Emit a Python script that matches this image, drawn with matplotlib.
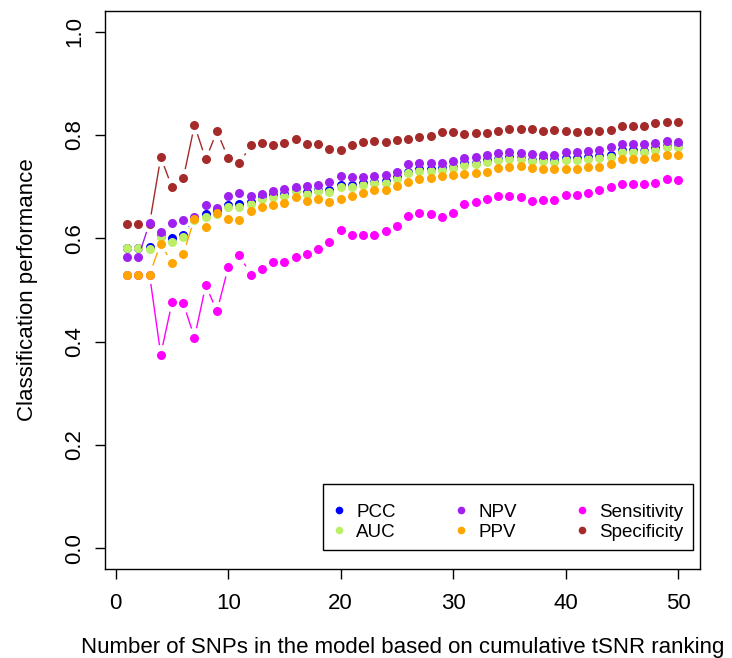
import numpy as np
import matplotlib.pyplot as plt
from matplotlib.collections import LineCollection
from matplotlib.lines import Line2D

plt.rcParams["font.family"] = ["Liberation Sans", "DejaVu Sans"]

# number of SNPs in the model
snps = np.arange(1, 51)

pcc = [0.581, 0.581, 0.584, 0.605, 0.601, 0.607, 0.638, 0.647, 0.652, 0.664,
       0.666, 0.670, 0.680, 0.683, 0.685, 0.694, 0.690, 0.694, 0.693, 0.703,
       0.703, 0.707, 0.710, 0.711, 0.718, 0.729, 0.734, 0.734, 0.736, 0.739,
       0.745, 0.746, 0.751, 0.754, 0.757, 0.756, 0.752, 0.753, 0.751, 0.755,
       0.755, 0.757, 0.759, 0.761, 0.771, 0.771, 0.770, 0.774, 0.779, 0.779]
auc = [0.581, 0.581, 0.580, 0.602, 0.592, 0.603, 0.635, 0.642, 0.648, 0.660,
       0.661, 0.667, 0.677, 0.680, 0.682, 0.691, 0.686, 0.691, 0.690, 0.699,
       0.699, 0.703, 0.707, 0.708, 0.715, 0.726, 0.730, 0.730, 0.733, 0.736,
       0.742, 0.743, 0.747, 0.751, 0.754, 0.753, 0.749, 0.749, 0.747, 0.752,
       0.752, 0.754, 0.756, 0.758, 0.767, 0.767, 0.767, 0.771, 0.776, 0.776]
npv = [0.563, 0.563, 0.630, 0.612, 0.630, 0.636, 0.642, 0.665, 0.658, 0.681,
       0.687, 0.681, 0.686, 0.692, 0.695, 0.699, 0.702, 0.703, 0.709, 0.721,
       0.719, 0.719, 0.721, 0.723, 0.729, 0.743, 0.745, 0.745, 0.745, 0.749,
       0.756, 0.758, 0.762, 0.765, 0.767, 0.765, 0.763, 0.762, 0.762, 0.767,
       0.767, 0.769, 0.771, 0.776, 0.782, 0.782, 0.782, 0.784, 0.789, 0.787]
ppv = [0.530, 0.530, 0.530, 0.590, 0.552, 0.570, 0.638, 0.622, 0.650, 0.638,
       0.636, 0.652, 0.661, 0.664, 0.668, 0.680, 0.673, 0.676, 0.671, 0.677,
       0.681, 0.687, 0.693, 0.693, 0.702, 0.710, 0.715, 0.716, 0.721, 0.723,
       0.725, 0.727, 0.729, 0.736, 0.738, 0.740, 0.736, 0.734, 0.734, 0.734,
       0.734, 0.738, 0.738, 0.743, 0.754, 0.754, 0.754, 0.758, 0.762, 0.762]
sens = [0.530, 0.530, 0.530, 0.375, 0.476, 0.474, 0.408, 0.509, 0.459, 0.544,
        0.567, 0.530, 0.541, 0.554, 0.555, 0.563, 0.570, 0.579, 0.592, 0.616,
        0.607, 0.607, 0.607, 0.614, 0.623, 0.644, 0.649, 0.647, 0.642, 0.650,
        0.667, 0.670, 0.677, 0.681, 0.681, 0.680, 0.673, 0.675, 0.675, 0.683,
        0.683, 0.687, 0.693, 0.699, 0.705, 0.705, 0.705, 0.708, 0.715, 0.712]
spec = [0.628, 0.628, 0.628, 0.757, 0.699, 0.716, 0.819, 0.753, 0.807, 0.755,
        0.745, 0.780, 0.784, 0.780, 0.784, 0.793, 0.782, 0.782, 0.773, 0.771,
        0.780, 0.787, 0.788, 0.786, 0.790, 0.793, 0.797, 0.799, 0.806, 0.806,
        0.802, 0.804, 0.804, 0.807, 0.812, 0.812, 0.812, 0.807, 0.809, 0.807,
        0.806, 0.807, 0.807, 0.809, 0.818, 0.818, 0.818, 0.823, 0.825, 0.825]

labels = ["PCC", "AUC", "NPV", "PPV", "Sensitivity", "Specificity"]
colors = ["#0000FF", "#BCEE68", "#A020F0", "#FFA500", "#FF00FF", "#A52A2A"]
series = [pcc, auc, npv, ppv, sens, spec]
draw_order = [4, 5, 0, 1, 2, 3]

fig = plt.figure(figsize=(7.32, 6.58), dpi=100)
ax = fig.add_axes([105 / 732, 89 / 658, 595 / 732, 558 / 658])
ax.set_xlim(-0.96, 51.96)
ax.set_ylim(-0.04, 1.04)


def gapped_segments(x, y, gap=9.5):
    # R type="b": line segments stop short of each point
    pts = ax.transData.transform(np.column_stack([x, y]))
    inv = ax.transData.inverted()
    segs = []
    for p0, p1 in zip(pts[:-1], pts[1:]):
        d = p1 - p0
        L = np.hypot(*d)
        if L > 2 * gap:
            u = d / L
            segs.append(inv.transform([p0 + u * gap, p1 - u * gap]))
    return segs


z = 2
for i in draw_order:
    lc = LineCollection(gapped_segments(snps, series[i]), colors=colors[i],
                        linewidths=1.0, zorder=z)
    ax.add_collection(lc)
    ax.plot(snps, series[i], "o", color=colors[i], ms=6.5, mew=0, zorder=z + 1)
    z += 2

ax.set_xticks([0, 10, 20, 30, 40, 50])
ax.set_yticks([0.0, 0.2, 0.4, 0.6, 0.8, 1.0])
ax.set_yticklabels(["0.0", "0.2", "0.4", "0.6", "0.8", "1.0"], rotation=90, va="center")
ax.tick_params(direction="out", length=7, width=1, labelsize=16)
ax.tick_params(axis="x", pad=10)
ax.tick_params(axis="y", pad=7)
for s in ax.spines.values():
    s.set_linewidth(1)
ax.set_xlabel("Number of SNPs in the model based on cumulative tSNR ranking",
              fontsize=16, labelpad=17)
ax.set_ylabel("Classification performance", fontsize=16, labelpad=19)

handles = [Line2D([], [], ls="", marker="o", ms=5.5, mew=0, color=c) for c in colors]
# blank title only adds the extra top padding of the R legend box
leg = ax.legend(handles, labels, ncol=3, loc="lower right",
                bbox_to_anchor=(0.988, 0.034), borderaxespad=0, fontsize=13.5,
                handlelength=0.7, handletextpad=0.55, columnspacing=3.15,
                labelspacing=0.15, borderpad=0.5, fancybox=False,
                framealpha=1, edgecolor="black", title=" ", title_fontsize=5.5)
leg.get_frame().set_linewidth(1)

fig.savefig("out.png", dpi=100)
